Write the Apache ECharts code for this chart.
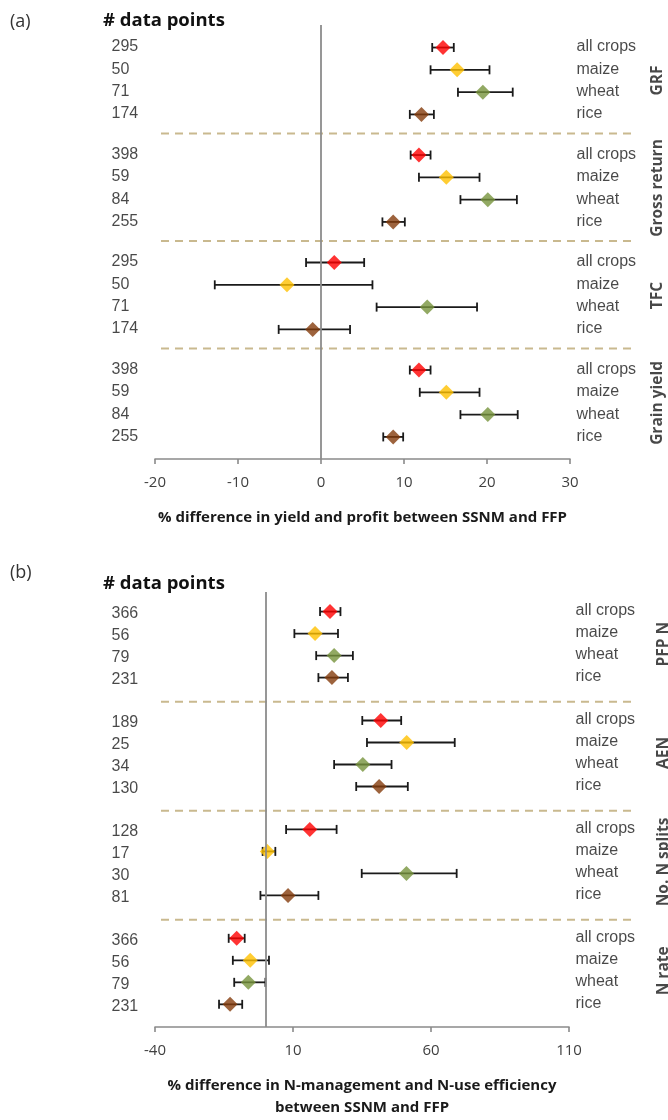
<!DOCTYPE html>
<html><head><meta charset="utf-8">
<script src="https://cdn.jsdelivr.net/npm/echarts@6/dist/echarts.min.js"></script>
<style>html,body{margin:0;padding:0;background:#fff}#c{width:668px;height:1120px}</style>
</head><body><div id="c"></div>
<script>
// ---------- data ----------
const crops = ['all crops', 'maize', 'wheat', 'rice'];

const groupsA = ['GRF', 'Gross return', 'TFC', 'Grain yield'];
const countsA = [[295, 50, 71, 174], [398, 59, 84, 255], [295, 50, 71, 174], [398, 59, 84, 255]];
const meanA = [[14.7, 16.4, 19.5, 12.1], [11.8, 15.1, 20.1, 8.7], [1.6, -4.1, 12.8, -1.0], [11.8, 15.1, 20.1, 8.7]];
const lowA  = [[13.4, 13.2, 16.5, 10.7], [10.8, 11.8, 16.8, 7.4], [-1.8, -12.8, 6.7, -5.1], [10.7, 11.9, 16.8, 7.5]];
const highA = [[16.0, 20.3, 23.1, 13.6], [13.2, 19.1, 23.6, 10.1], [5.2, 6.2, 18.8, 3.5], [13.2, 19.1, 23.7, 9.9]];
const xTicksA = [-20, -10, 0, 10, 20, 30];
const xTitleA = '% difference in yield and profit between SSNM and FFP';

const groupsB = ['PFP N', 'AEN', 'No. N splits', 'N rate'];
const countsB = [[366, 56, 79, 231], [189, 25, 34, 130], [128, 17, 30, 81], [366, 56, 79, 231]];
const meanB = [[23.4, 18.0, 24.9, 24.1], [41.8, 51.2, 35.3, 41.2], [16.1, 0.7, 51.1, 8.2], [-10.4, -5.5, -6.2, -12.8]];
const lowB  = [[19.8, 10.5, 18.4, 19.2], [35.1, 36.8, 24.9, 32.9], [7.5, -1.0, 34.9, -1.8], [-13.3, -11.8, -11.3, -16.8]];
const highB = [[27.2, 26.3, 31.7, 29.9], [49.2, 68.6, 45.7, 51.6], [25.8, 3.6, 69.3, 19.2], [-7.5, 1.3, 0.0, -8.4]];
const xTicksB = [-40, 10, 60, 110];
const xTitleB = '% difference in N-management and N-use efficiency\nbetween SSNM and FFP';

// ---------- styles / layout ----------
const cropColors = ['#ff0000', '#ffc000', '#77933c', '#843c0c'];
const panels = [
  {groups: groupsA, counts: countsA, mean: meanA, low: lowA, high: highA, ticks: xTicksA, title: xTitleA,
   step: 4.82, sepOff: 3.85, grid: {left: 155, top: 25, width: 415, height: 434}, yMin: -1.01, yMax: 18.45,
   groupLabelOff: 88, nameGap: 48, countDy: 0},
  {groups: groupsB, counts: countsB, mean: meanB, low: lowB, high: highB, ticks: xTicksB, title: xTitleB,
   step: 4.95, sepOff: 4.1, grid: {left: 155, top: 592, width: 414, height: 439}, yMin: -0.89, yMax: 18.88,
   groupLabelOff: 95, nameGap: 48, countDy: 3}
];

const chart = echarts.init(document.getElementById('c'), null, {renderer: 'canvas'});

const grids = [], xAxes = [], yAxes = [], series = [];
const FONT = 'Open Sans';
const LABFONT = 'Liberation Sans';

function renderErr(params, api) {
  const lo = api.coord([api.value(0), api.value(2)]);
  const hi = api.coord([api.value(1), api.value(2)]);
  const c = 4.5;
  const st = {stroke: '#1a1a1a', lineWidth: 1.8, fill: null};
  return {type: 'group', children: [
    {type: 'line', shape: {x1: lo[0], y1: lo[1], x2: hi[0], y2: hi[1]}, style: st},
    {type: 'line', shape: {x1: lo[0], y1: lo[1] - c, x2: lo[0], y2: lo[1] + c}, style: st},
    {type: 'line', shape: {x1: hi[0], y1: hi[1] - c, x2: hi[0], y2: hi[1] + c}, style: st}
  ]};
}
function renderSep(params, api) {
  const cs = params.coordSys;
  const y = api.coord([0, api.value(0)])[1];
  return {type: 'line', shape: {x1: cs.x + 6, y1: y, x2: cs.x + cs.width + 64, y2: y},
    style: {stroke: '#c9b98f', lineWidth: 2, lineDash: [8, 6]}};
}

panels.forEach((p, i) => {
  const xmin = p.ticks[0], xmax = p.ticks[p.ticks.length - 1];
  const interval = p.ticks[1] - p.ticks[0];
  grids.push(Object.assign({containLabel: false}, p.grid));
  xAxes.push({
    type: 'value', gridIndex: i, min: xmin, max: xmax, interval: interval, position: 'bottom',
    axisLine: {show: true, onZero: false, lineStyle: {color: '#8a8a8a', width: 1.6}},
    axisTick: {show: true, inside: false, length: 5, lineStyle: {color: '#8a8a8a', width: 1.6}},
    axisLabel: {fontFamily: FONT, fontSize: 15, color: '#404040', margin: 16},
    splitLine: {show: false},
    name: p.title, nameLocation: 'middle', nameGap: p.nameGap,
    nameTextStyle: {fontFamily: FONT, fontWeight: 'bold', fontSize: 15, color: '#1a1a1a', lineHeight: 22}
  });
  yAxes.push({type: 'value', gridIndex: i, min: p.yMin, max: p.yMax, inverse: true, show: false,
    splitLine: {show: false}});

  const errData = [], markData = [], countData = [], cropData = [], groupData = [], sepData = [];
  p.groups.forEach((gname, g) => {
    crops.forEach((cname, r) => {
      const y = g * p.step + r;
      errData.push([p.low[g][r], p.high[g][r], y]);
      markData.push({value: [p.mean[g][r], y], itemStyle: {color: cropColors[r]}});
      countData.push({value: [xmin, y], label: {formatter: String(p.counts[g][r])}});
      cropData.push({value: [xmax, y], label: {formatter: cname}});
    });
    groupData.push({value: [xmax, g * p.step + 1.5], label: {formatter: gname}});
    if (g < p.groups.length - 1) sepData.push([g * p.step + p.sepOff]);
  });

  series.push({type: 'custom', xAxisIndex: i, yAxisIndex: i, data: sepData, renderItem: renderSep,
    encode: {y: 0}, clip: false, silent: true, z: 1});
  series.push({type: 'custom', xAxisIndex: i, yAxisIndex: i, data: errData, renderItem: renderErr,
    encode: {x: [0, 1], y: 2}, clip: false, silent: true, z: 3});
  series.push({type: 'scatter', xAxisIndex: i, yAxisIndex: i, data: markData, symbol: 'diamond',
    symbolSize: 15, z: 4, silent: true,
    markLine: {silent: true, symbol: 'none', label: {show: false},
      lineStyle: {color: '#8c8c8c', width: 1.8, type: 'solid'}, data: [{xAxis: 0}]}});
  const txt = {type: 'scatter', xAxisIndex: i, yAxisIndex: i, symbolSize: 1, silent: true, z: 5,
    itemStyle: {color: 'rgba(0,0,0,0)'}};
  series.push(Object.assign({}, txt, {data: countData,
    label: {show: true, position: [-43, p.countDy], align: 'left', verticalAlign: 'middle',
      fontFamily: LABFONT, fontSize: 16, color: '#1a1a1a'}}));
  series.push(Object.assign({}, txt, {data: cropData,
    label: {show: true, position: [7, 0], align: 'left', verticalAlign: 'middle',
      fontFamily: LABFONT, fontSize: 16, color: '#1a1a1a'}}));
  series.push(Object.assign({}, txt, {data: groupData,
    label: {show: true, position: [p.groupLabelOff, 0], align: 'center', verticalAlign: 'middle', rotate: 90,
      fontFamily: FONT, fontWeight: 'bold', fontSize: 15.5, color: '#1a1a1a'}}));
});

chart.setOption({
  animation: false,
  backgroundColor: '#fff',
  grid: grids, xAxis: xAxes, yAxis: yAxes, series: series,
  graphic: [
    {type: 'text', left: 10, top: 13, style: {text: '(a)', font: '18px "Open Sans"', fill: '#333'}},
    {type: 'text', left: 103, top: 11, style: {text: '# data points', font: 'bold 18.5px "Open Sans"', fill: '#111'}},
    {type: 'text', left: 10, top: 564, style: {text: '(b)', font: '18px "Open Sans"', fill: '#333'}},
    {type: 'text', left: 103, top: 574, style: {text: '# data points', font: 'bold 18.5px "Open Sans"', fill: '#111'}}
  ]
});
</script></body></html>
